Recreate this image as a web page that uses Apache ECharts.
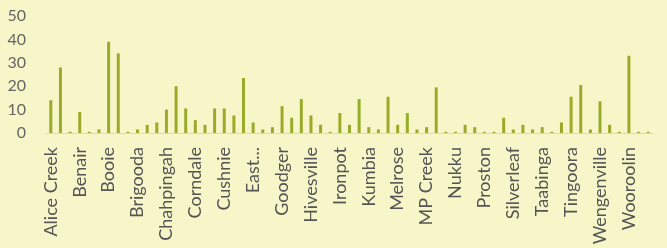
<!DOCTYPE html>
<html>
<head>
<meta charset="utf-8">
<script src="https://cdn.jsdelivr.net/npm/echarts@6/dist/echarts.min.js"></script>
<style>
  html, body { margin: 0; padding: 0; background: #f6f6c8; }
  #chart { width: 667px; height: 248px; }
</style>
</head>
<body>
<div id="chart"></div>
<script>
  // localities, alphabetical; only every third one gets a label on the axis
  var localities = [
    "Alice Creek", "Ballogie", "Barker Creek", "Benair", "Bethany", "Blackbutt",
    "Booie", "Boondooma", "Bridgewater", "Brigooda", "Brooklands", "Burrandowan",
    "Chahpingah", "Cloyna", "Coolabunia", "Corndale", "Crawford", "Crownthorpe",
    "Cushnie", "Dangore", "Durong", "East Nanango", "Elgin Vale", "Glenrock",
    "Goodger", "Gordonbrook", "Hazeldean", "Hivesville", "Hodgleigh", "Inverlaw",
    "Ironpot", "Johnstown", "Kingaroy", "Kumbia", "Kunioon", "Maidenwell",
    "Melrose", "Memerambi", "Moffatdale", "MP Creek", "Murgon", "Nanango",
    "Nukku", "Pimpimbudgee", "Pottique", "Proston", "Redgate", "Sandy Creek",
    "Silverleaf", "Stonelands", "Stuart Valley", "Taabinga", "Tarong", "The Palms",
    "Tingoora", "Wattle Camp", "Wattle Grove", "Wengenville", "Wheatlands", "Windera",
    "Wooroolin", "Wooroonden", "Yarraman"
  ];

  var counts = [
    14, 28, 0.5, 9, 0.5, 1.5,
    39, 34, 0.5, 1.5, 3.5, 4.5,
    10, 20, 10.5, 5.5, 3.5, 10.5,
    10.5, 7.5, 23.5, 4.5, 1.5, 2.5,
    11.5, 6.5, 14.5, 7.5, 3.5, 0.5,
    8.5, 3.5, 14.5, 2.5, 1.5, 15.5,
    3.5, 8.5, 1.5, 2.5, 19.5, 0.5,
    0.5, 3.5, 2.5, 0.5, 0.5, 6.5,
    1.5, 3.5, 1.5, 2.5, 0.5, 4.5,
    15.5, 20.5, 1.5, 13.5, 3.5, 0.5,
    33, 0.5, 0.5
  ];

  var yTicks = { min: 0, max: 50, interval: 10 };

  // Excel cuts long labels back to the first word
  function shortLabel(name) {
    if (name.length > 11 && name.indexOf(" ") > 0) {
      return name.slice(0, name.indexOf(" ")) + "...";
    }
    return name;
  }

  var chart = echarts.init(document.getElementById("chart"), null, { renderer: "canvas" });
  chart.setOption({
    backgroundColor: "#f6f6c8",
    animation: false,
    grid: { left: 46, right: 14, top: 16, bottom: 115 },
    xAxis: {
      type: "category",
      data: localities,
      axisLine: { show: true, lineStyle: { color: "#dcdcb4", width: 1 } },
      axisTick: { show: false },
      axisLabel: {
        interval: 2,
        rotate: 90,
        margin: 14,
        color: "#555555",
        fontFamily: "Lato",
        fontSize: 18,
        formatter: shortLabel
      }
    },
    yAxis: {
      type: "value",
      min: yTicks.min,
      max: yTicks.max,
      interval: yTicks.interval,
      splitLine: { show: false },
      axisLine: { show: false },
      axisTick: { show: false },
      axisLabel: {
        margin: 20,
        color: "#666666",
        fontFamily: "Lato",
        fontSize: 16
      }
    },
    series: [{
      type: "bar",
      data: counts,
      barWidth: 3,
      itemStyle: { color: "#9aab2b" }
    }]
  });
</script>
</body>
</html>
